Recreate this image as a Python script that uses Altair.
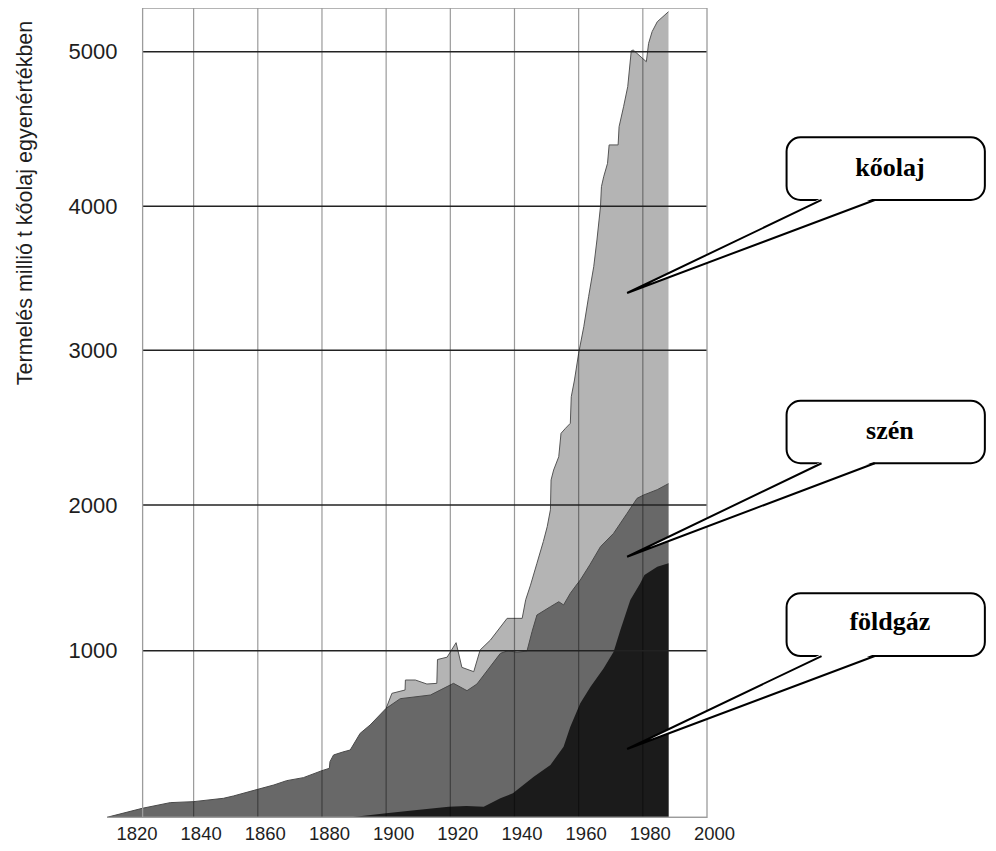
import altair as alt
import pandas as pd

# ---------------- data ----------------
# cumulative upper boundaries of the stacked bands, million t oil equivalent
coal_years = [1813, 1824, 1832.7, 1840, 1849.3, 1852.4, 1860, 1865, 1869, 1874.2, 1880,
              1882.3, 1882.5, 1883.6, 1886.5, 1888.8, 1891.9, 1895, 1900, 1904.4, 1913.8,
              1921, 1925.2, 1928.3, 1935.6, 1938, 1940.8, 1943.9, 1945.5, 1947, 1951.2,
              1953.8, 1955.3, 1957.4, 1959.3, 1960.5, 1963.5, 1966.8, 1970.9, 1975.1,
              1978.2, 1980.3, 1984.5, 1988]
coal_top = [0, 54, 88, 94, 114, 128, 168, 194, 220, 238, 280,
            294, 334, 374, 392, 404, 504, 554, 654, 712, 734,
            804, 760, 800, 984, 1000, 990, 998, 1133, 1245, 1302,
            1336, 1314, 1394, 1451, 1485, 1590, 1714, 1806, 1943,
            2043, 2065, 2099, 2138]

gas_years = [1889, 1900, 1909.6, 1919.5, 1925, 1930.4, 1935.6, 1939.5, 1946, 1951.2,
             1955.3, 1957.4, 1960.5, 1963.7, 1967.8, 1970.9, 1973, 1976.1, 1979.2,
             1980.5, 1984.5, 1988]
gas_top = [0, 24, 44, 64, 68, 64, 114, 144, 244, 314,
           424, 544, 684, 784, 894, 994, 1142, 1348, 1463,
           1520, 1577, 1600]

oil_years = [1900, 1901.8, 1905.9, 1906, 1909.1, 1912.7, 1915.8, 1916, 1919, 1921.8,
             1923.6, 1927.3, 1929.3, 1932.5, 1937.7, 1942.4, 1943.5, 1945, 1947, 1949,
             1950.2, 1951.2, 1951.4, 1952.2, 1953.8, 1954.5, 1955.9, 1957.4, 1957.7,
             1958.7, 1960, 1961.6, 1963.1, 1964.7, 1965.7, 1966.8, 1967.1, 1967.8, 1969,
             1969.5, 1972.3, 1972.6, 1974, 1975.3, 1976.4, 1977, 1981.1, 1981.8, 1982.9,
             1984.5, 1988]
oil_top = [654, 744, 764, 824, 824, 800, 804, 947, 961, 1055,
           900, 874, 1005, 1073, 1222, 1222, 1350, 1450, 1600, 1750,
           1851, 1967, 2162, 2226, 2312, 2463, 2496, 2528, 2700,
           2808, 2981, 3164, 3372, 3581, 3766, 3997, 4127, 4191, 4278,
           4397, 4397, 4515, 4644, 4774, 5006, 5011, 4935, 5054, 5130,
           5194, 5259]

x_tick_labels = [1820, 1840, 1860, 1880, 1900, 1920, 1940, 1960, 1980, 2000]
x_grid_years = [1840, 1860, 1880, 1900, 1920, 1940, 1960, 1980]
y_ticks = [1000, 2000, 3000, 4000, 5000]

callout_names = ["kőolaj", "szén", "földgáz"]
Y_TITLE = "Termelés millió t kőolaj egyenértékben"

# ---------------- layout / style ----------------
X0, X1 = 1813, 2000
FRAME_LEFT = 1824.1
Y_TOP = 5283
LIGHT, MID, DARK = "#b4b4b4", "#686868", "#1b1b1b"
SANS = "Liberation Sans"

# callout geometry in chart units (year, Mt)
BOX_X = (2024.8, 2086.6)
BOX_Y = [(4041, 4446), (2270, 2674), (968, 1394)]
TEXT_X = 2057.0
TEXT_Y = [4196, 2425, 1142]
TIP_X = 1975.1
TIP_Y = [3398, 1645, 410]
BASE_A, BASE_B = 2035.7, 2052.3
FILL_TOP = [4054, 2282, 980]
FILL_LOW_A = [3916, 2150, 858]

xscale = alt.Scale(domain=[X0, X1], nice=False, zero=False)
yscale = alt.Scale(domain=[0, 1000, 2000, 3000, 4000, 5000, Y_TOP],
                   range=[809.3, 642.7, 497, 342.3, 198.3, 43.7, 0],
                   nice=False, zero=False)

x_axis = alt.Axis(values=x_tick_labels, title="", grid=False, domain=False, ticks=False,
                  tickSize=0, labelOffset=7, labelPadding=7, labelFontSize=18.5,
                  labelFont=SANS, labelColor="#1e1e1e", labelFlush=False,
                  labelOverlap=False, format="d")
y_axis = alt.Axis(values=y_ticks, title=Y_TITLE, grid=False, domain=False, ticks=False,
                  tickSize=0, labelPadding=0, offset=-10, labelFontSize=22,
                  labelFont=SANS, labelColor="#1e1e1e", labelOverlap=False, format="d",
                  titleFont=SANS, titleFontSize=21.5, titleFontWeight="normal",
                  titleColor="#1e1e1e", titleAngle=270, titleAlign="center",
                  titleBaseline="alphabetic", titleX=-86, titleY=194.5)


def X(f):
    return alt.X(f, type="quantitative", scale=xscale, axis=x_axis)


def Y(f):
    return alt.Y(f, type="quantitative", scale=yscale, axis=y_axis)


oil_df = pd.DataFrame({"year": oil_years, "value": oil_top})
coal_df = pd.DataFrame({"year": coal_years, "value": coal_top})
gas_df = pd.DataFrame({"year": gas_years, "value": gas_top})

oil = alt.Chart(oil_df).mark_area(color=LIGHT).encode(x=X("year"), y=Y("value"))
oil_line = alt.Chart(oil_df).mark_line(color="#555555", strokeWidth=1).encode(x=X("year"), y=Y("value"))
coal = alt.Chart(coal_df).mark_area(color=MID).encode(x=X("year"), y=Y("value"))
coal_line = alt.Chart(coal_df).mark_line(color="#4a4a4a", strokeWidth=1).encode(x=X("year"), y=Y("value"))
gas = alt.Chart(gas_df).mark_area(color=DARK).encode(x=X("year"), y=Y("value"))

vgrid_df = pd.DataFrame({"year": x_grid_years, "lo": 0, "hi": Y_TOP})
vgrid = alt.Chart(vgrid_df).mark_rule(color="black", opacity=0.4, strokeWidth=1.2).encode(
    x=X("year"), y=Y("lo"), y2=alt.Y2("hi"))

hgrid_df = pd.DataFrame({"v": y_ticks, "xa": FRAME_LEFT, "xb": X1})
hgrid = alt.Chart(hgrid_df).mark_rule(color="#222222", strokeWidth=1.6).encode(
    y=Y("v"), x=X("xa"), x2=alt.X2("xb"))

frame_df = pd.DataFrame({"xa": [FRAME_LEFT], "xb": [X1], "ya": [0], "yb": [Y_TOP]})
frame = alt.Chart(frame_df).mark_rect(fillOpacity=0, stroke="#9c9c9c", strokeWidth=1.3).encode(
    x=X("xa"), x2=alt.X2("xb"), y=Y("ya"), y2=alt.Y2("yb"))
base_df = pd.DataFrame({"xa": [X0], "xb": [X1], "y": [0]})
baseline = alt.Chart(base_df).mark_rule(color="#9c9c9c", strokeWidth=1.3).encode(
    x=X("xa"), x2=alt.X2("xb"), y=Y("y"))

# callouts
box_df = pd.DataFrame({"id": callout_names,
                       "xa": BOX_X[0], "xb": BOX_X[1],
                       "ya": [b[0] for b in BOX_Y], "yb": [b[1] for b in BOX_Y]})
boxes = alt.Chart(box_df).mark_rect(fill="white", stroke="black", strokeWidth=2,
                                    cornerRadius=14).encode(
    x=X("xa"), x2=alt.X2("xb"), y=Y("ya"), y2=alt.Y2("yb"))

wedge_rows = []
for i, n in enumerate(callout_names):
    wedge_rows.append({"id": n, "x": TIP_X, "y": TIP_Y[i], "y2": TIP_Y[i]})
    wedge_rows.append({"id": n, "x": BASE_A, "y": FILL_TOP[i], "y2": FILL_LOW_A[i]})
    wedge_rows.append({"id": n, "x": BASE_B, "y": FILL_TOP[i], "y2": FILL_TOP[i]})
wedge_df = pd.DataFrame(wedge_rows)
wedges = alt.Chart(wedge_df).mark_area(color="white").encode(
    x=X("x"), y=Y("y"), y2=alt.Y2("y2"), detail="id:N")

ptr_rows = []
for i, n in enumerate(callout_names):
    ptr_rows.append({"id": n, "o": 0, "x": BASE_A, "y": BOX_Y[i][0]})
    ptr_rows.append({"id": n, "o": 1, "x": TIP_X, "y": TIP_Y[i]})
    ptr_rows.append({"id": n, "o": 2, "x": BASE_B, "y": BOX_Y[i][0]})
ptr_df = pd.DataFrame(ptr_rows)
pointers = alt.Chart(ptr_df).mark_line(color="black", strokeWidth=2).encode(
    x=X("x"), y=Y("y"), order="o:Q", detail="id:N")

lab_df = pd.DataFrame({"x": TEXT_X, "y": TEXT_Y, "t": callout_names})
labels = alt.Chart(lab_df).mark_text(font="Liberation Serif", fontSize=26, fontWeight="bold",
                                     color="black", align="center",
                                     baseline="alphabetic").encode(
    x=X("x"), y=Y("y"), text="t:N")

chart = alt.layer(oil, oil_line, coal, coal_line, gas, vgrid, hgrid, frame, baseline,
                  boxes, wedges, pointers, labels).properties(
    width=600, height=809,
    autosize=alt.AutoSizeParams(type="none"),
    padding={"left": 99, "top": 0, "right": 281, "bottom": 26},
).configure_view(stroke="transparent")

chart.save("out.html", embed_options={"renderer": "svg", "actions": False})
